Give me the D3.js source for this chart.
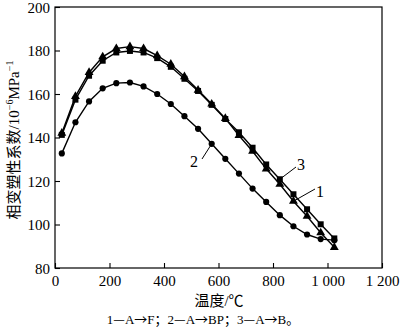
<!DOCTYPE html>
<html><head><meta charset="utf-8">
<script src="https://cdn.jsdelivr.net/npm/d3@7"></script>
<style>
html,body{margin:0;padding:0;background:#fff;}
svg text{font-family:"Liberation Serif","DejaVu Serif",serif;fill:#000;}
.cjk{font-family:"Liberation Serif","Noto Sans CJK SC",serif;}
</style></head>
<body><svg id="c" width="400" height="330"></svg>
<script>
// temperature (°C) of each measurement
const temps = [25,75,125,175,225,275,325,375,425,475,525,575,625,675,725,775,825,875,925,975,1025];
// 1 — A→F (triangles)
const seriesAF = [142,158.9,169.9,177.1,180.9,181.8,180.9,177.6,173.7,168,161.8,155.4,148.8,140.9,133.7,125.6,118.5,110.7,103.8,96.2,89.5];
// 2 — A→BP (circles)
const seriesABP = [132.7,147,156.6,162.6,165,165.3,163.5,160,155.4,149.8,144,137.1,130.2,123.4,116.5,110.4,104.3,99.2,95.4,93.3,92.8];
// 3 — A→B (squares)
const seriesAB = [141.2,157.4,168.4,175.3,179.1,179.8,179.1,176.5,172.5,167,161.4,155,148.5,142.4,135.3,127.6,120.8,113.9,107,100.1,93.6];
const xTicks = [0,200,400,600,800,1000,1200];
const xTickLabels = ["0","200","400","600","800","1 000","1 200"];
const yTicks = [80,100,120,140,160,180,200];

const svg = d3.select("#c");
const x = d3.scaleLinear().domain([0,1200]).range([55,382]);
const y = d3.scaleLinear().domain([80,200]).range([268,7]);

// frame
svg.append("rect").attr("x",55).attr("y",7).attr("width",327).attr("height",261)
  .attr("fill","none").attr("stroke","#000").attr("stroke-width",1.2);

// axes with inward ticks
const xAxis = d3.axisBottom(x).tickValues(xTicks).tickSize(-5).tickPadding(7)
  .tickFormat((d,i)=>xTickLabels[i]);
const gx = svg.append("g").attr("transform","translate(0,268)").call(xAxis);
const yAxis = d3.axisLeft(y).tickValues(yTicks).tickSize(-5).tickPadding(5);
const gy = svg.append("g").attr("transform","translate(55,0)").call(yAxis);
[gx,gy].forEach(g=>{
  g.select(".domain").remove();
  g.selectAll(".tick line").attr("stroke","#000").attr("stroke-width",1.1);
  g.selectAll(".tick text").attr("font-size",15).attr("font-family","Liberation Serif, serif").attr("fill","#000");
});
gy.selectAll(".tick text").attr("dy","0.36em");

const line = d3.line().x((d,i)=>x(temps[i])).y(d=>y(d));
const series = [
  {vals: seriesABP, mark: "circle"},
  {vals: seriesAB, mark: "square"},
  {vals: seriesAF, mark: "triangle"}
];
series.forEach(s=>{
  svg.append("path").datum(s.vals).attr("d",line)
    .attr("fill","none").attr("stroke","#000").attr("stroke-width",1.4);
  const sym = s.mark==="circle" ? d3.symbolCircle : s.mark==="square" ? d3.symbolSquare : d3.symbolTriangle;
  const size = s.mark==="circle" ? 30 : s.mark==="square" ? 36 : 34;
  svg.append("g").selectAll("path").data(s.vals).join("path")
    .attr("transform",(d,i)=>`translate(${x(temps[i])},${y(d)})`)
    .attr("d",d3.symbol().type(sym).size(size)).attr("fill","#000");
});

// curve labels with leader lines
function tag(label, idx, vals, lx, ly, tx, ty){
  svg.append("line").attr("x1",lx).attr("y1",ly)
    .attr("x2",x(temps[idx])).attr("y2",y(vals[idx]))
    .attr("stroke","#000").attr("stroke-width",1);
  svg.append("text").attr("x",tx).attr("y",ty).attr("font-size",16).text(label);
}
tag("2", 11, seriesABP, 202, 159, 190, 167);
tag("3", 16, seriesAB, 296, 167, 297, 170);
tag("1", 17, seriesAF, 315, 189, 316, 197);

// axis titles
svg.append("text").attr("class","cjk").attr("x",219).attr("y",306)
  .attr("text-anchor","middle").attr("font-size",15).text("温度/℃");
const yt = svg.append("text").attr("class","cjk").attr("transform","translate(19,140) rotate(-90)")
  .attr("text-anchor","middle").attr("font-size",15);
yt.append("tspan").text("相变塑性系数/10");
yt.append("tspan").attr("font-size",10).attr("dy",-6).text("−6");
yt.append("tspan").attr("dy",6).text("MPa");
yt.append("tspan").attr("font-size",10).attr("dy",-6).text("−1");

// caption: letters in serif, dashes/arrows/punctuation in a CJK face
const capParts = ["1","—","A","→","F","；","2","—","A","→","BP","；","3","—","A","→","B","。"];
const cap = svg.append("text").attr("x",203).attr("y",324)
  .attr("text-anchor","middle").attr("font-size",13);
capParts.forEach(p=>{
  const t = cap.append("tspan").text(p);
  if (/[—→；。]/.test(p)) t.style("font-family", "'Noto Sans CJK SC', sans-serif");
});
</script></body></html>
